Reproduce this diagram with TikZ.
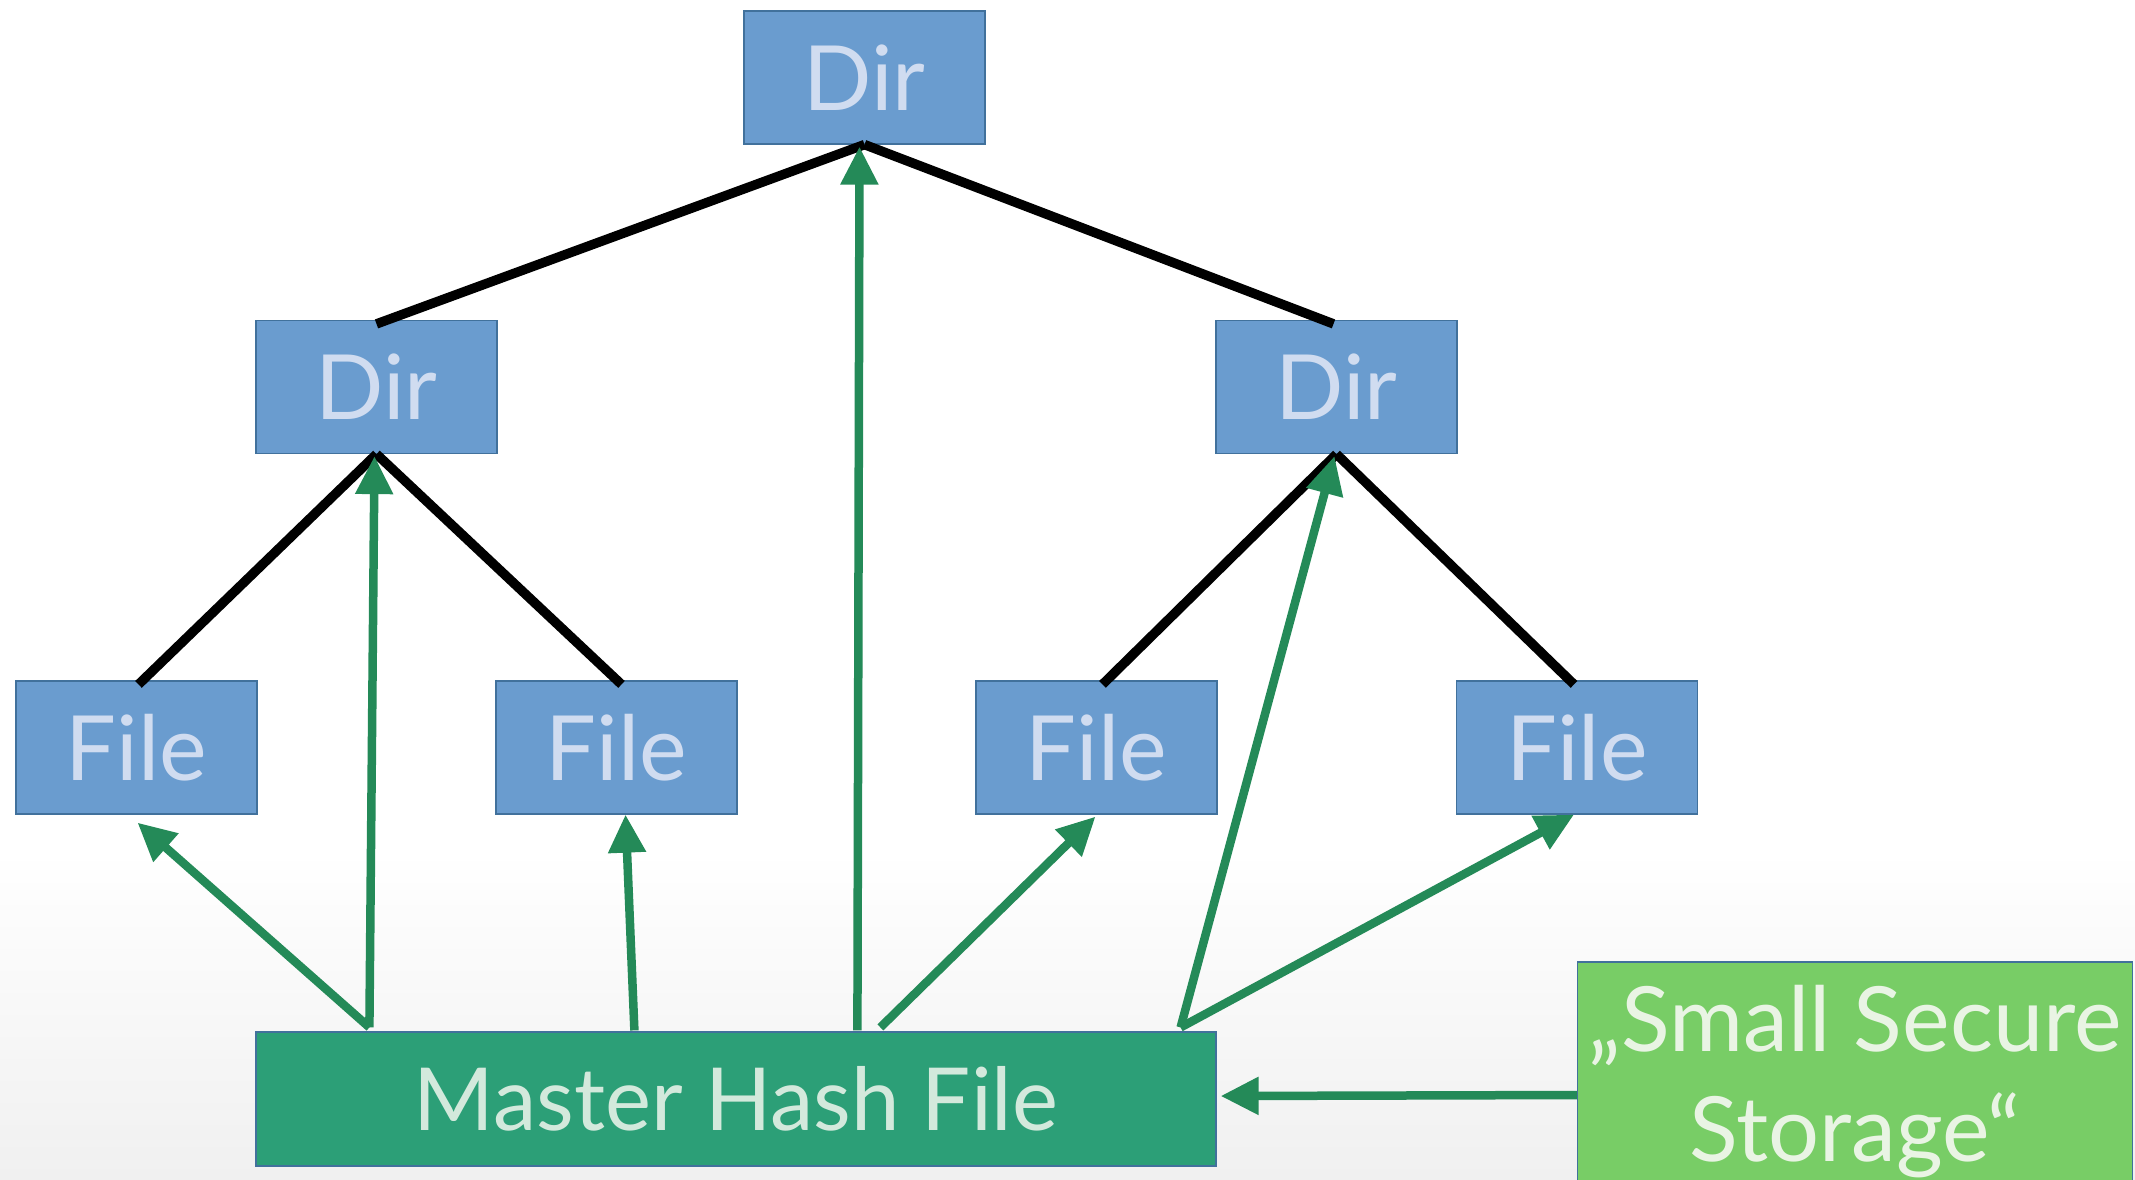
\documentclass[tikz,border=0pt]{standalone}
\usepackage{fontspec}
\setmainfont{Lato}
\usetikzlibrary{arrows.meta,calc}
\definecolor{boxblue}{HTML}{6A9CCF}
\definecolor{boxedge}{HTML}{41719C}
\definecolor{bluetext}{HTML}{D0DCF0}
\definecolor{hashfill}{HTML}{2C9F77}
\definecolor{hashtext}{HTML}{D3E9DC}
\definecolor{securefill}{HTML}{78CD66}
\definecolor{securetext}{HTML}{E9F4E4}
\definecolor{hashgreen}{HTML}{248A58}
\definecolor{bgbottom}{HTML}{F0F0F0}
\tikzset{
  treebox/.style={draw=boxedge, line width=1.2pt, fill=boxblue, text=bluetext,
    minimum width=241pt, minimum height=133pt, inner sep=0pt,
    font=\fontsize{90}{108}\selectfont},
  hashbox/.style={draw=boxedge, line width=1.2pt, fill=hashfill, text=hashtext,
    minimum width=960pt, minimum height=134pt, inner sep=0pt,
    font=\fontsize{87}{104}\selectfont},
  securebox/.style={draw=boxedge, line width=1.2pt, fill=securefill, text=securetext,
    minimum width=555pt, minimum height=240pt, inner sep=0pt, align=center,
    font=\fontsize{90}{110}\selectfont},
  treeline/.style={black, line width=9.5pt},
  hashlink/.style={hashgreen, line width=8.5pt,
    -{Triangle[length=38pt,width=36pt]}},
}
\begin{document}
\begin{tikzpicture}[x=1pt,y=-1pt]
  % page and soft grey fade at the bottom
  \useasboundingbox (0,0) rectangle (2135,1179);
  \fill[white] (0,0) rectangle (2135,1179);
  \shade[top color=white, bottom color=bgbottom] (0,850) rectangle (2135,1179);

  % directory tree
  \node[treebox] (root) at (864.5,77.5) {Dir};
  \node[treebox] (dirl) at (376.5,387) {Dir};
  \node[treebox] (dirr) at (1336.5,387) {Dir};
  \node[treebox] (f1) at (136.5,747.5) {File};
  \node[treebox] (f2) at (616.5,747.5) {File};
  \node[treebox] (f3) at (1096.5,747.5) {File};
  \node[treebox] (f4) at (1577,747.5) {File};

  % hash storage
  \node[hashbox] (mhf) at (736,1099) {Master Hash File};
  \node[securebox] (sss) at (1855,1082) {„Small Secure\\Storage“};

  % tree edges
  \draw[treeline] (root.south) -- ($(dirl.north)+(0,4)$);
  \draw[treeline] (root.south) -- ($(dirr.north)+(-3,4)$);
  \draw[treeline] (dirl.south) -- ($(f1.north)+(2,4)$);
  \draw[treeline] (dirl.south) -- ($(f2.north)+(5,4)$);
  \draw[treeline] (dirr.south) -- ($(f3.north)+(6,4)$);
  \draw[treeline] (dirr.south) -- ($(f4.north)+(-3,4)$);

  % hash references from the master hash file
  \draw[hashlink] ($(mhf.north west)+(114,-4)$) -- ($(f1.south)+(1,8)$);
  \draw[hashlink] ($(mhf.north west)+(114,-4)$) -- ($(dirl.south)+(-2,2)$);
  \draw[hashlink] ($(mhf.north west)+(379,-1)$) -- ($(f2.south)+(9,0)$);
  \draw[hashlink] ($(mhf.north west)+(602,-1)$) -- ($(root.south)+(-5,2)$);
  \draw[hashlink] ($(mhf.north west)+(625,-4)$) -- ($(f3.south)+(-1,2)$);
  \draw[hashlink] ($(mhf.north east)+(-36,-4)$) -- ($(dirr.south)+(-2,2)$);
  \draw[hashlink] ($(mhf.north east)+(-36,-4)$) -- ($(f4.south)+(-3,0)$);
  \draw[hashlink] (sss.west |- 0,1095) -- ($(mhf.east)+(4,-3)$);
\end{tikzpicture}
\end{document}
